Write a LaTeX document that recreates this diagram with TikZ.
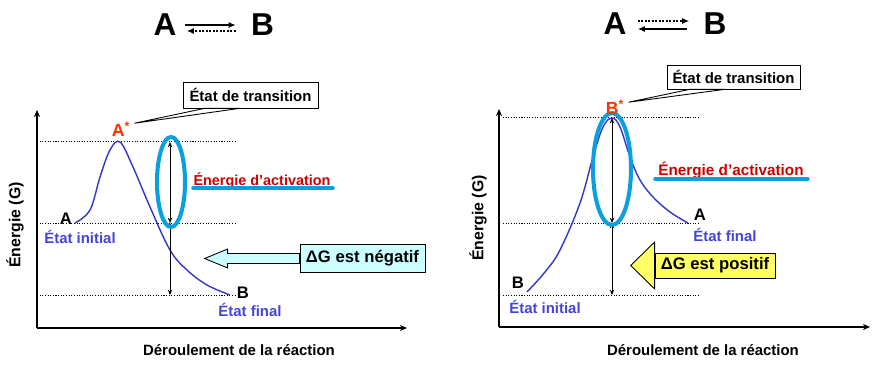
\documentclass[tikz,border=0pt]{standalone}
\usepackage{fontspec}
\setmainfont{Liberation Sans}
\usetikzlibrary{shapes.geometric, arrows.meta, positioning, calc}

\definecolor{curveblue}{HTML}{3535C8}
\definecolor{labelblue}{HTML}{4444D8}
\definecolor{starred}{HTML}{FF3300}
\definecolor{actred}{HTML}{D00000}
\definecolor{ringcyan}{HTML}{0AA0E0}
\definecolor{boxcyan}{HTML}{CCFFFF}
\definecolor{boxyellow}{HTML}{FFFF66}

\begin{document}
\begin{tikzpicture}[
    x=0.02cm, y=-0.02cm,
    title/.style={font=\fontsize{18}{18}\selectfont\bfseries, inner sep=0pt},
    lbl/.style={font=\fontsize{8.5}{10}\selectfont\bfseries, inner sep=0pt},
    endlbl/.style={font=\fontsize{9.5}{10}\selectfont\bfseries, inner sep=0pt},
    state/.style={lbl, text=labelblue},
    star/.style={font=\fontsize{10}{10}\selectfont\bfseries, inner sep=0pt, text=starred},
    actlbl/.style={font=\fontsize{8.2}{10}\selectfont\bfseries, inner sep=0pt, text=actred},
    tsbox/.style={lbl, draw=black, fill=white, inner sep=0pt},
    dgbox/.style={font=\fontsize{9.5}{10}\selectfont\bfseries, draw=black, inner sep=0pt},
    ring/.style={ellipse, draw=ringcyan, line width=2.3pt, inner sep=0pt},
    underl/.style={draw=ringcyan, line width=2pt, line cap=round},
    curve/.style={curveblue, line width=0.8pt},
    level/.style={line width=0.5pt, dash pattern=on 0.6pt off 0.9pt},
    axis/.style={line width=0.7pt, -{Stealth[length=4pt,width=3.5pt]}},
    dgarrow/.style={line width=0.5pt, {Stealth[length=3pt,width=2.5pt]}-{Stealth[length=3pt,width=2.5pt]}},
    solidarr/.style={line width=1pt, -{Latex[length=4pt,width=3.5pt]}},
    dotarr/.style={line width=1pt, dash pattern=on 1pt off 1pt, -{Latex[length=4pt,width=3.5pt]}}
]
    \useasboundingbox (0,0) rectangle (887,375);

    % ---------------- left panel: A -> B
    \node (tA1) [title] at (165,25) {A};
    \node (tB1) [title] at (262.5,25) {B};
    \draw [solidarr] ($(tA1.east)+(8,0)$) -- ($(tB1.west)+(-15,0)$);
    \draw [dotarr] ($(tB1.west)+(-15,6)$) -- ($(tA1.east)+(10,6)$);

    \coordinate (o1) at (37,328);
    \coordinate (yt1) at (37,110);
    \coordinate (xe1) at (407,328);
    \draw [axis] (o1) -- (yt1);
    \draw [axis] (o1) -- (xe1);

    \draw [level] (37,141) -- (236,141);
    \draw [level] (37,223) -- (236,223);
    \draw [level] (37,295) -- (236,295);

    \draw [curve] plot [smooth, tension=0.6] coordinates
        {(75,223) (90,210) (100,177) (110,150) (120,142) (133,167) (150,207) (170,250) (187,270) (207,285) (230,295)};

    \coordinate (top1) at (170,142);
    \coordinate (mid1) at (170,223);
    \coordinate (bot1) at (170,295);
    \draw [dgarrow] (top1) -- (mid1);
    \draw [dgarrow] (mid1) -- (bot1);

    \node (ell1) [ring, minimum width=0.56cm, minimum height=1.8cm] at (171,182) {};

    \node (astar1) [star] at (121,129) {A\textsuperscript{*}};
    \node (lA1) [endlbl] at (66,219) {A};
    \node (lEI1) [state] at (80,237) {État initial};
    \node (lB1) [endlbl] at (243,293) {B};
    \node (lEF1) [state] at (250,310) {État final};

    \node (act1) [actlbl] at (262,181) {Énergie d’activation};
    \draw [underl] (193,188) -- (333,188);

    \node (ts1) [tsbox, minimum width=2.7cm, minimum height=0.52cm] at (250.5,95) {État de transition};
    \draw [fill=white, line width=0.5pt] ($(astar1.north east)+(4,2)$) -- ($(ts1.south west)+(22,0)$) -- ($(ts1.south west)+(57,0)$) -- cycle;

    \node (dg1) [dgbox, fill=boxcyan, minimum width=2.5cm, minimum height=0.56cm] at (362.5,258.5) {ΔG est négatif};
    \draw [fill=boxcyan, line width=0.5pt] ($(dg1.west)+(0,-5)$) -- ++(-72,0) -- ++(0,-4.5) -- ++(-23,9.5) -- ++(23,9.5) -- ++(0,-4.5) -- ++(72,0) -- cycle;

    \node (ylab1) [lbl, font=\fontsize{9}{10}\selectfont\bfseries, rotate=90] at (15,225) {Énergie (G)};
    \node (xlab1) [lbl] at (239,350) {Déroulement de la réaction};

    % ---------------- right panel: B -> A
    \node (tA2) [title] at (615,24) {A};
    \node (tB2) [title] at (715,24) {B};
    \draw [dotarr] ($(tA2.east)+(11,-3)$) -- ($(tB2.west)+(-14,-3)$);
    \draw [solidarr] ($(tB2.west)+(-16,5)$) -- ($(tA2.east)+(11,5)$);

    \coordinate (o2) at (499,327);
    \coordinate (yt2) at (499,109);
    \coordinate (xe2) at (870,327);
    \draw [axis] (o2) -- (yt2);
    \draw [axis] (o2) -- (xe2);

    \draw [level] (503,117) -- (700,117);
    \draw [level] (503,223) -- (700,223);
    \draw [level] (503,295) -- (700,295);

    \draw [curve] plot [smooth, tension=0.6] coordinates
        {(527,292) (545,272) (560,250) (580,203) (593,157) (603,127) (612,118) (620,127) (630,157) (640,180) (653,197) (670,212) (688,223)};

    \coordinate (top2) at (612,118);
    \coordinate (mid2) at (612,223);
    \coordinate (bot2) at (612,295);
    \draw [dgarrow] (top2) -- (mid2);
    \draw [dgarrow] (mid2) -- (bot2);

    \node (ell2) [ring, minimum width=0.76cm, minimum height=2.24cm] at (612,169) {};

    \node (bstar2) [star] at (615,107) {B\textsuperscript{*}};
    \node (lA2) [endlbl] at (700,215) {A};
    \node (lEF2) [state] at (725,235) {État final};
    \node (lB2) [endlbl] at (518,283) {B};
    \node (lEI2) [state] at (545,307) {État initial};

    \node (act2) [actlbl, font=\fontsize{8.7}{10}\selectfont\bfseries] at (731,170) {Énergie d’activation};
    \draw [underl] (655,179) -- (808,179);

    \node (ts2) [tsbox, minimum width=2.66cm, minimum height=0.48cm] at (733.5,77) {État de transition};
    \draw [fill=white, line width=0.5pt] ($(bstar2.north east)+(4,3)$) -- ($(ts2.south west)+(23,0)$) -- ($(ts2.south west)+(58,0)$) -- cycle;

    \node (dg2) [dgbox, fill=boxyellow, minimum width=2.4cm, minimum height=0.5cm] at (715,265.5) {ΔG est positif};
    \draw [fill=boxyellow, line width=0.5pt] ($(dg2.west)+(0,-23.5)$) -- ++(-24,23.5) -- ++(24,23.5) -- cycle;
    \node [dgbox, fill=boxyellow, minimum width=2.4cm, minimum height=0.5cm] at (dg2) {ΔG est positif};

    \node (ylab2) [lbl, font=\fontsize{9}{10}\selectfont\bfseries, rotate=90] at (478,218) {Énergie (G)};
    \node (xlab2) [lbl] at (703,350) {Déroulement de la réaction};
\end{tikzpicture}
\end{document}
